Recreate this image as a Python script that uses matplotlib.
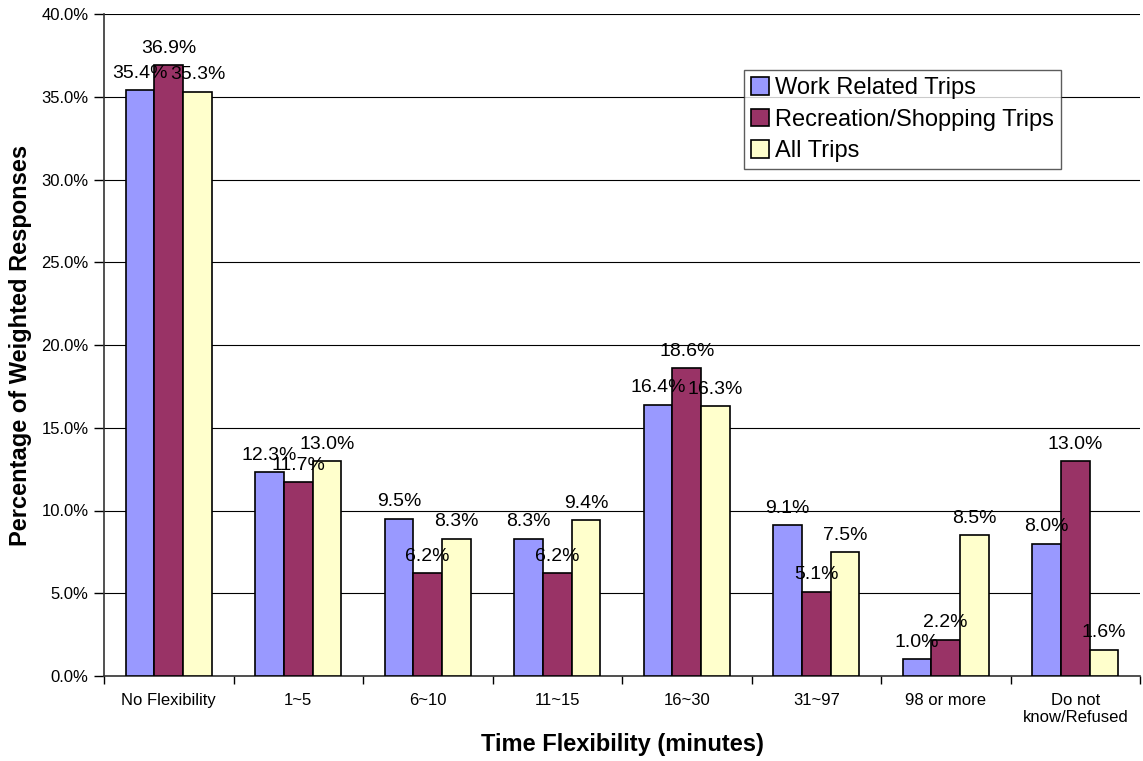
import matplotlib
matplotlib.use("Agg")
import matplotlib.pyplot as plt
import numpy as np
from matplotlib.ticker import FuncFormatter, FixedLocator

plt.rcParams['font.family'] = ['Liberation Sans', 'DejaVu Sans']

categories = ["No Flexibility", "1~5", "6~10", "11~15", "16~30", "31~97",
              "98 or more", "Do not\nknow/Refused"]
work = [35.4, 12.3, 9.5, 8.3, 16.4, 9.1, 1.0, 8.0]
recreation = [36.9, 11.7, 6.2, 6.2, 18.6, 5.1, 2.2, 13.0]
all_trips = [35.3, 13.0, 8.3, 9.4, 16.3, 7.5, 8.5, 1.6]
series_names = ["Work Related Trips", "Recreation/Shopping Trips", "All Trips"]
colors = ["#9999FF", "#993366", "#FFFFCC"]

fig = plt.figure(figsize=(11.43, 7.61), dpi=100)
ax = fig.add_axes([104/1143, 1-676/761, 1036/1143, 662/761])

x = np.arange(len(categories))
w = 1/4.5
series = [work, recreation, all_trips]
for i, (vals, name, c) in enumerate(zip(series, series_names, colors)):
    pos = x + (i - 1) * w
    ax.bar(pos, vals, width=w, color=c, edgecolor='black', linewidth=1.2,
           label=name, zorder=3)
    for xp, v in zip(pos, vals):
        ax.annotate(f"{v:.1f}%", (xp, v), xytext=(0, 6), textcoords='offset points',
                    ha='center', va='bottom', fontsize=14, zorder=4)

ax.set_xlim(-0.5, len(categories) - 0.5)
ax.set_ylim(0, 40)
ax.yaxis.set_major_locator(FixedLocator(np.arange(0, 40.1, 5)))
ax.yaxis.set_major_formatter(FuncFormatter(lambda v, p: f"{v:.1f}%"))
ax.grid(axis='y', color='black', linewidth=0.8, zorder=0)
ax.set_axisbelow(True)

ax.set_xticks(x)
ax.set_xticklabels(categories, fontsize=12)
ax.tick_params(axis='x', length=0, pad=12)
ax.set_xticks(np.arange(-0.5, len(categories)), minor=True)
ax.tick_params(axis='x', which='minor', length=6, width=1, direction='out')
ax.tick_params(axis='y', length=7, width=1, direction='out', labelsize=12, pad=4)

for s in ['top', 'right']:
    ax.spines[s].set_visible(False)
for s in ['left', 'bottom']:
    ax.spines[s].set_color('#333333')
    ax.spines[s].set_linewidth(1.2)

ax.set_xlabel("Time Flexibility (minutes)", fontsize=17, fontweight='bold', labelpad=6)
ax.set_ylabel("Percentage of Weighted Responses", fontsize=17, fontweight='bold', labelpad=7)

leg = ax.legend(loc='upper left', bbox_to_anchor=(0.618, 0.915), fontsize=17,
                frameon=True, fancybox=False, shadow=False, borderpad=0.3,
                handlelength=0.75, handleheight=0.75, handletextpad=0.25,
                labelspacing=0.4, borderaxespad=0)
leg.get_frame().set_edgecolor('#333333')
leg.get_frame().set_linewidth(1.0)
leg.set_zorder(5)

fig.savefig("out.png", dpi=100)
